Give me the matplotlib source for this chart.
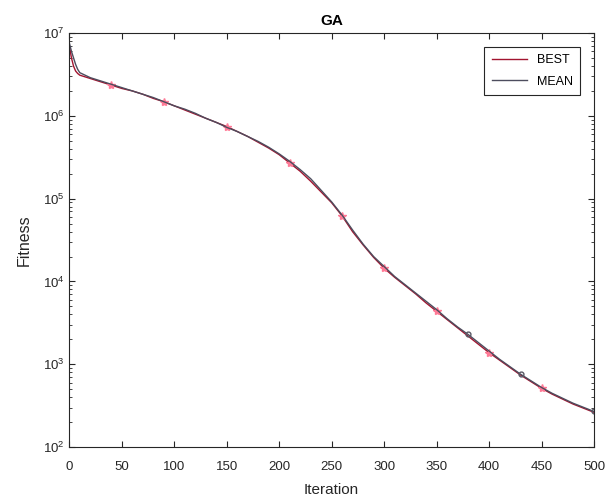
import numpy as np
import matplotlib
matplotlib.use("Agg")
import matplotlib.pyplot as plt
from matplotlib.ticker import LogLocator, NullFormatter

plt.rcParams['font.family'] = ['Liberation Sans', 'DejaVu Sans']

iterations = [0, 2, 4, 6, 8, 10, 20, 30, 40, 50, 60, 70, 80, 90, 100,
              110, 120, 130, 140, 150, 160, 170, 180, 190, 200,
              210, 220, 230, 240, 250, 260, 270, 280, 290, 300,
              310, 320, 330, 340, 350, 360, 370, 380, 390, 400,
              410, 420, 430, 440, 450, 460, 470, 480, 490, 500]

# log10 of fitness
best_log = [6.85, 6.70, 6.60, 6.54, 6.51, 6.49, 6.45, 6.41, 6.37, 6.33,
            6.30, 6.26, 6.21, 6.17, 6.12, 6.07, 6.02, 5.97, 5.92, 5.87,
            5.81, 5.75, 5.68, 5.61, 5.53, 5.43, 5.33, 5.21, 5.08, 4.95,
            4.79, 4.60, 4.44, 4.29, 4.16, 4.05, 3.95, 3.85, 3.74, 3.64,
            3.54, 3.44, 3.34, 3.24, 3.14, 3.05, 2.96, 2.87, 2.79, 2.71,
            2.64, 2.58, 2.52, 2.47, 2.42]
mean_log = [6.88, 6.78, 6.70, 6.62, 6.56, 6.52, 6.46, 6.42, 6.38, 6.34,
            6.30, 6.26, 6.22, 6.17, 6.12, 6.08, 6.03, 5.97, 5.92, 5.86,
            5.81, 5.75, 5.69, 5.62, 5.54, 5.45, 5.35, 5.24, 5.10, 4.96,
            4.80, 4.62, 4.45, 4.30, 4.18, 4.06, 3.96, 3.86, 3.76, 3.66,
            3.55, 3.45, 3.36, 3.26, 3.16, 3.06, 2.97, 2.88, 2.80, 2.72,
            2.65, 2.59, 2.53, 2.48, 2.43]

best_marks = [8, 13, 19, 25, 30, 34, 39, 44, 49]
mean_marks = [42, 47, 54]

best = 10 ** np.array(best_log)
mean = 10 ** np.array(mean_log)

fig = plt.figure(figsize=(6.08, 4.99), dpi=100)
ax = fig.add_axes([0.114, 0.104, 0.863, 0.830])

ax.plot(iterations, best, color='#a2142f', lw=1.0, label='BEST',
        marker='*', markersize=6, markevery=best_marks,
        markerfacecolor='#ff7a96', markeredgecolor='#ff7a96')
ax.plot(iterations, mean, color='#4d4d5e', lw=1.0, label='MEAN',
        marker='o', markersize=3.5, markevery=mean_marks,
        markerfacecolor='none', markeredgecolor='#5a5a66')

ax.set_yscale('log')
ax.set_xlim(0, 500)
ax.set_ylim(1e2, 1e7)
ax.set_xticks(np.arange(0, 501, 50))
ax.yaxis.set_major_locator(LogLocator(base=10, numticks=10))
ax.yaxis.set_minor_locator(LogLocator(base=10, subs=np.arange(2, 10), numticks=20))
ax.yaxis.set_minor_formatter(NullFormatter())

ax.tick_params(which='both', direction='in', top=True, right=True,
               colors='#262626', labelsize=9.5)
ax.tick_params(axis='x', pad=10)
ax.tick_params(which='major', length=4)
ax.tick_params(which='minor', length=2)
for sp in ax.spines.values():
    sp.set_color('#262626')
    sp.set_linewidth(0.8)

ax.set_title('GA', fontsize=11, fontweight='bold', pad=6)
ax.set_xlabel('Iteration', fontsize=11, color='#262626', labelpad=7)
ax.set_ylabel('Fitness', fontsize=11.5, color='#262626', labelpad=8)

leg = ax.legend(loc='upper right', fontsize=9, fancybox=False,
                edgecolor='#262626', framealpha=1, handlelength=2.8,
                labelspacing=0.75, borderaxespad=1.1, borderpad=0.6)
leg.get_frame().set_linewidth(0.8)
for h in leg.legend_handles:
    h.set_marker('')

fig.savefig('out.png', dpi=100)
